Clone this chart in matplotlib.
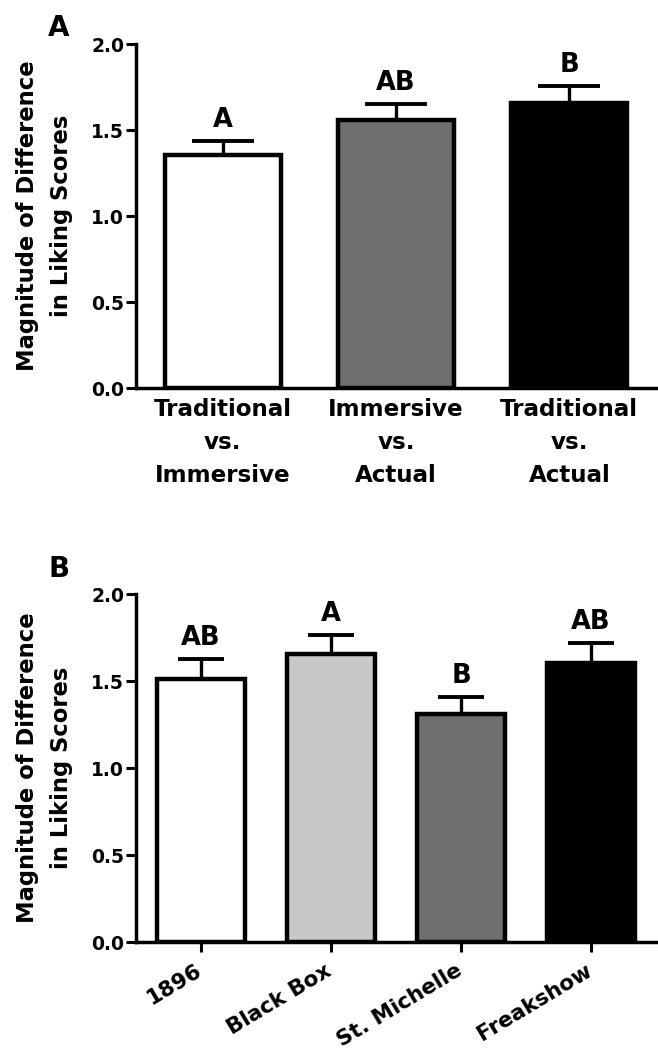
import numpy as np
import matplotlib
matplotlib.use("Agg")
import matplotlib.pyplot as plt
import matplotlib.transforms as mtransforms

plt.rcParams['font.family'] = ['DejaVu Sans']
plt.rcParams['font.weight'] = 'bold'

# panel A data
a_labels = ['Traditional\nvs.\nImmersive', 'Immersive\nvs.\nActual', 'Traditional\nvs.\nActual']
a_means = [1.355, 1.558, 1.660]
a_sem = [0.083, 0.096, 0.097]
a_letters = ['A', 'AB', 'B']
a_colors = ['white', '#6f6f6f', 'black']

# panel B data
b_labels = ['1896', 'Black Box', 'St. Michelle', 'Freakshow']
b_means = [1.512, 1.655, 1.310, 1.605]
b_sem = [0.113, 0.110, 0.100, 0.115]
b_letters = ['AB', 'A', 'B', 'AB']
b_colors = ['white', '#c8c8c8', '#6f6f6f', 'black']

ylabel = 'Magnitude of Difference\nin Liking Scores'
yticks = [0.0, 0.5, 1.0, 1.5, 2.0]

fig = plt.figure(figsize=(6.58, 10.51), dpi=100)
axA = fig.add_axes([0.2067, 0.6308, 0.7903, 0.3273])
axB = fig.add_axes([0.2067, 0.1037, 0.7903, 0.3311])


def draw_panel(ax, labels, means, sem, letters, colors, capsize):
    x = np.arange(len(means))
    ax.errorbar(x, means, yerr=[np.zeros(len(sem)), sem], fmt='none',
                ecolor='black', elinewidth=2.4, capsize=capsize, capthick=2.8,
                zorder=1)
    ax.bar(x, means, width=0.67, color=colors, edgecolor='black',
           linewidth=3.2, zorder=2)
    for xi, m, s, t in zip(x, means, sem, letters):
        ax.annotate(t, (xi, m + s), xytext=(0, 10), textcoords='offset points',
                    ha='center', va='baseline', fontsize=18.5, fontweight='bold')
    ax.set_xlim(-0.5, len(means) - 0.5)
    ax.set_ylim(0, 2.0)
    ax.set_yticks(yticks)
    ax.set_yticklabels(['%.1f' % v for v in yticks])
    ax.set_xticks(x)
    for s in ['top', 'right']:
        ax.spines[s].set_visible(False)
    for s in ['left', 'bottom']:
        ax.spines[s].set_linewidth(2.5)
    ax.tick_params(axis='y', length=7, width=2.2, pad=1.5, labelsize=13.5)
    ax.set_ylabel(ylabel, fontsize=16.3, fontweight='bold', linespacing=1.6)
    ax.yaxis.set_label_coords(-0.122, 0.5)
    return x


draw_panel(axA, a_labels, a_means, a_sem, a_letters, a_colors, capsize=22)
axA.set_xticklabels(a_labels, fontsize=16.6, fontweight='bold', linespacing=1.55)
axA.tick_params(axis='x', length=0, pad=7)

draw_panel(axB, b_labels, b_means, b_sem, b_letters, b_colors, capsize=16.5)
axB.set_xticklabels(b_labels, fontsize=15.5, fontweight='bold', rotation=31,
                    ha='right', rotation_mode='anchor')
axB.tick_params(axis='x', length=7, width=2.2, pad=9)
shift = mtransforms.ScaledTranslation(-6 / 100, 4 / 100, fig.dpi_scale_trans)
for lab in axB.get_xticklabels():
    lab.set_transform(lab.get_transform() + shift)

fig.text(0.073, 0.9657, 'A', fontsize=20, fontweight='bold')
fig.text(0.073, 0.451, 'B', fontsize=20, fontweight='bold')

fig.savefig('out.png', dpi=100)
